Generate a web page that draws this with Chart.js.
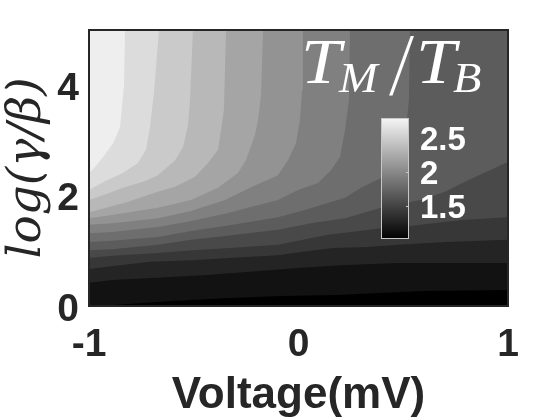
<!DOCTYPE html>
<html>
<head>
<meta charset="utf-8">
<style>
html,body{margin:0;padding:0;background:#fff}
#wrap{position:relative;width:560px;height:420px;overflow:hidden}
#main{position:absolute;left:0;top:0}
#bar{position:absolute;left:371px;top:108px}
</style>
<script src="https://cdn.jsdelivr.net/npm/chart.js@4"></script>
</head>
<body>
<div id="wrap"><canvas id="main" width="560" height="420"></canvas><canvas id="bar" width="120" height="132"></canvas></div>
<script>
// Gray level of each band, darkest (plot background) to brightest
const bandColors = ['#000000','#121212','#242424','#373737','#494949','#5c5c5c','#6e6e6e','#808080','#939393','#a5a5a5','#b8b8b8','#cacaca','#dcdcdc','#eeeeee'];

// Contour lines: c1 is the darkest boundary, c13 the brightest
const c1x = [-1,-.885,-.604,-.351,-.088,.184,.594,1];
const c1y = [0,.02,.09,.14,.18,.20,.27,.29];
const c2x = [-1,-.885,-.671,-.437,-.232,-.002,.203,.475,1];
const c2y = [.42,.47,.51,.56,.62,.69,.74,.78,.78];
const c3x = [-1,-.914,-.709,-.508,-.327,-.098,.012,.165,.332,.475,.709,1];
const c3y = [.67,.71,.80,.83,.87,.92,.98,1.05,1.07,1.11,1.16,1.20];
const c4x = [-1,-.890,-.671,-.504,-.327,-.098,.021,.141,.251,.394,.532,.780,1];
const c4y = [.87,.91,.96,1.01,1.05,1.11,1.20,1.29,1.34,1.41,1.45,1.56,1.61];
const c5x = [-1,-.890,-.671,-.513,-.351,-.098,.060,.222,.394,.580,.699,.809,1];
const c5y = [1.01,1.03,1.11,1.20,1.27,1.38,1.50,1.59,1.78,1.92,2.07,2.28,2.61];
const c6x = [-1,-.890,-.671,-.513,-.351,-.098,.031,.222,.298,.394,.475,.513,.527,.532];
const c6y = [1.16,1.18,1.25,1.36,1.45,1.61,1.74,1.96,2.14,2.32,2.64,3.19,3.73,5];
const c7x = [-1,-.890,-.671,-.513,-.351,-.098,-.002,.093,.155,.198,.222,.241,.246];
const c7y = [1.32,1.34,1.43,1.54,1.67,1.92,2.10,2.23,2.46,2.70,3.19,3.73,5];
const c8x = [-1,-.890,-.671,-.513,-.351,-.232,-.098,-.050,-.012,.007,.017,.021];
const c8y = [1.47,1.50,1.59,1.72,1.92,2.14,2.37,2.64,2.95,3.37,3.91,5];
const c9x = [-1,-.890,-.671,-.513,-.384,-.289,-.251,-.208,-.193,-.179,-.169];
const c9y = [1.59,1.65,1.78,1.92,2.14,2.41,2.64,3.10,3.37,3.82,5];
const c10x = [-1,-.828,-.671,-.589,-.494,-.432,-.384,-.370,-.356,-.346];
const c10y = [1.70,1.87,2.07,2.16,2.34,2.59,2.83,3.19,3.55,5];
const c11x = [-1,-.900,-.838,-.733,-.671,-.589,-.551,-.527,-.518,-.504];
const c11y = [1.92,2.05,2.14,2.26,2.37,2.64,2.88,3.28,3.73,5];
const c12x = [-1,-.924,-.838,-.766,-.728,-.709,-.690,-.666];
const c12y = [2.10,2.26,2.41,2.59,2.83,3.24,3.86,5];
const c13x = [-1,-.971,-.933,-.885,-.852,-.833,-.828];
const c13y = [2.41,2.52,2.70,2.95,3.24,4.00,5];

const xTicks = [-1,0,1];
const yTicks = [0,2,4];
const barTicks = [1.5,2,2.5];
const barRange = [1.01,2.79];
const xTitle = 'Voltage(mV)';
const yTitle = 'log(\u03B3/\u03B2)';

const contours = [[c13x,c13y],[c12x,c12y],[c11x,c11y],[c10x,c10y],[c9x,c9y],[c8x,c8y],[c7x,c7y],[c6x,c6y],[c5x,c5y],[c4x,c4y],[c3x,c3y],[c2x,c2y],[c1x,c1y]];
const INK = '#262626';

const datasets = contours.map(function(c,i){
  return {
    data: c[0].map(function(x,k){return {x:x,y:c[1][k]};}),
    showLine:true, fill:'end', tension:0, pointRadius:0, borderWidth:0,
    borderColor:'transparent', backgroundColor:bandColors[13-i]
  };
});

const frame = {
  id:'frame',
  beforeDatasetsDraw:function(chart){
    const a=chart.chartArea, c=chart.ctx;
    c.save(); c.fillStyle=bandColors[0]; c.fillRect(a.left,a.top,a.width,a.height); c.restore();
  },
  afterDatasetsDraw:function(chart){
    const a=chart.chartArea, c=chart.ctx;
    c.save(); c.strokeStyle=INK; c.lineWidth=2; c.strokeRect(a.left,a.top,a.width,a.height);
    // Annotation inside the plot
    c.fillStyle='#fff'; c.textBaseline='alphabetic'; c.textAlign='left';
    const L=a.left, T=a.top;
    const put=function(t,size,dx,dy,sx,sy){
      c.save(); c.translate(L+dx,T+dy); c.scale(sx,sy);
      c.font='italic '+size+'px "Liberation Serif"'; c.fillText(t,0,0); c.restore();
    };
    put('T',64,212,53,1.12,1); put('M',43,250,62,1.08,1); put('/',62,303,64,1.0,1.45); put('T',64,327,53,1.12,1); put('B',43,364,62,1.08,1);
    c.restore();
  }
};

new Chart(document.getElementById('main'),{
  type:'scatter',
  data:{datasets:datasets},
  plugins:[frame],
  options:{
    responsive:false, animation:false,
    layout:{padding:{top:30,right:52,left:0,bottom:0}},
    plugins:{legend:{display:false},tooltip:{enabled:false}},
    scales:{
      x:{type:'linear',min:-1,max:1,
        afterBuildTicks:function(s){s.ticks=xTicks.map(function(v){return {value:v};});},
        afterFit:function(s){s.height=114;s.paddingLeft=0;s.paddingRight=0;},
        grid:{display:false},border:{display:false},
        ticks:{color:INK,padding:8,maxRotation:0,autoSkip:false,font:{family:'"Liberation Sans"',size:39,weight:'bold'}},
        title:{display:true,text:xTitle,color:INK,padding:{top:0,bottom:-2},font:{family:'"Liberation Sans"',size:44,weight:'bold'}}
      },
      y:{type:'linear',min:0,max:5,
        afterBuildTicks:function(s){s.ticks=yTicks.map(function(v){return {value:v};});},
        afterFit:function(s){s.width=89;s.paddingTop=0;s.paddingBottom=0;},
        grid:{display:false},border:{display:false},
        ticks:{color:INK,padding:2,labelOffset:4,autoSkip:false,font:{family:'"Liberation Sans"',size:39,weight:'bold'}},
        title:{display:true,text:yTitle,color:INK,padding:{top:0,bottom:0},font:{family:'"DejaVu Serif"',size:47,style:'italic'}}
      }
    }
  }
});

const barMarks = {
  id:'barMarks',
  afterDatasetsDraw:function(chart){
    const a=chart.chartArea, c=chart.ctx, y=chart.scales.y;
    c.save(); c.strokeStyle='#c8c8c8'; c.lineWidth=1;
    c.strokeRect(a.left+.5,a.top+.5,a.width-1,a.height-1);
    barTicks.forEach(function(v){
      const p=Math.round(y.getPixelForValue(v))+.5;
      c.beginPath(); c.moveTo(a.right-3,p); c.lineTo(a.right,p); c.stroke();
    });
    c.restore();
  }
};

new Chart(document.getElementById('bar'),{
  type:'bar',
  data:{labels:[''],datasets:[{
    data:[barRange],
    barPercentage:1,categoryPercentage:1,borderWidth:0,borderSkipped:false,
    backgroundColor:function(ctx){
      const a=ctx.chart.chartArea;
      if(!a) return '#888';
      const g=ctx.chart.ctx.createLinearGradient(0,a.top,0,a.bottom);
      g.addColorStop(0,'#f6f6f6'); g.addColorStop(1,'#000000');
      return g;
    }
  }]},
  plugins:[barMarks],
  options:{
    responsive:false, animation:false,
    layout:{padding:{top:10,bottom:1,left:10,right:0}},
    plugins:{legend:{display:false},tooltip:{enabled:false}},
    scales:{
      x:{display:false},
      y:{position:'right',min:barRange[0],max:barRange[1],
        afterBuildTicks:function(s){s.ticks=barTicks.map(function(v){return {value:v};});},
        afterFit:function(s){s.width=82;s.paddingTop=0;s.paddingBottom=0;},
        grid:{display:false},border:{display:false},
        ticks:{color:'#fff',padding:3,labelOffset:3,autoSkip:false,callback:function(v){return String(v);},
          font:{family:'"Liberation Sans"',size:33,weight:'bold'}}
      }
    }
  }
});
</script>
</body>
</html>
